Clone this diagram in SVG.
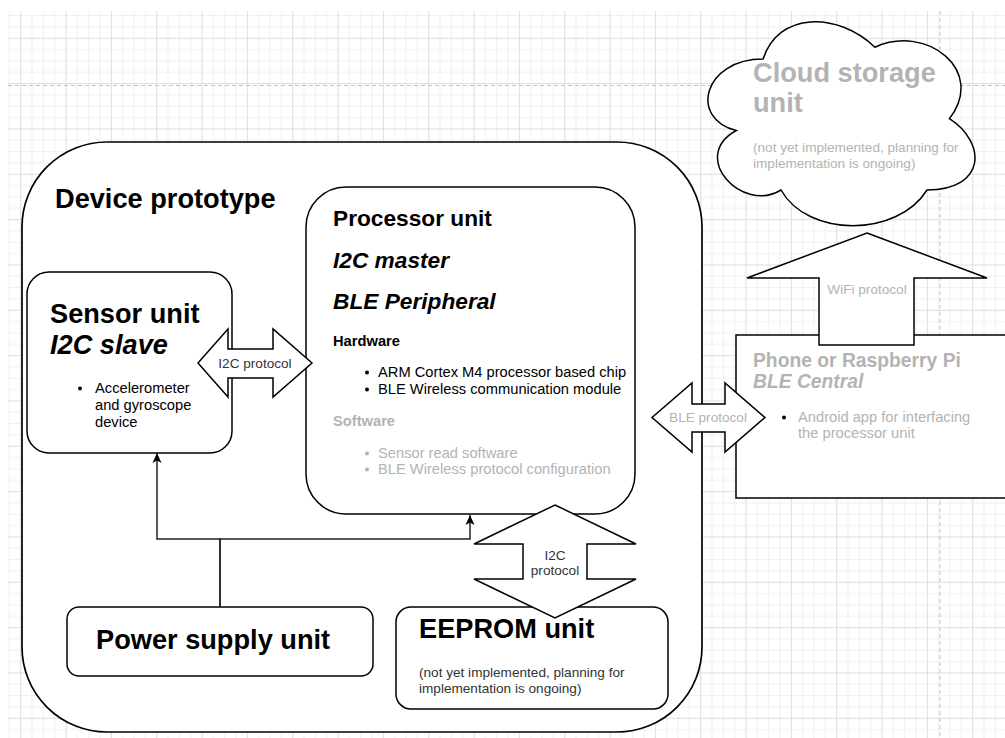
<svg xmlns="http://www.w3.org/2000/svg" width="1005" height="738" viewBox="0 0 1005 738">
<style>
.box{fill:#fff;stroke:#000;stroke-width:1.5}
.arr{fill:#fff;stroke:#000;stroke-width:1.5;stroke-linejoin:miter}
.con{fill:none;stroke:#222;stroke-width:1.5}
text{font-family:"Liberation Sans",Arial,Helvetica,sans-serif;fill:#000}
.h27{font-size:27.2px;font-weight:bold}
.h23{font-size:22.7px;font-weight:bold}
.h19{font-size:19.3px;font-weight:bold}
.hb{font-size:14.7px;font-weight:bold}
.b{font-size:14.7px}
.s{font-size:13.6px}
.lbl{font-size:13.6px;fill:#333;text-anchor:middle}
text.g{fill:#b3b3b3}
.it{font-style:italic}
.dot{fill:#000}
.gdot{fill:#b3b3b3}
.page{stroke:#c4c4c4;stroke-width:1;stroke-dasharray:4 3;fill:none}
</style>
<defs>
<pattern id="grid" x="20.2" y="37.8" width="45.333" height="45.333" patternUnits="userSpaceOnUse">
<rect x="0" y="0" width="45.333" height="45.333" fill="#fff"/>
<rect x="11.33" y="0" width="1" height="45.333" fill="#f0f0f0"/>
<rect x="22.67" y="0" width="1" height="45.333" fill="#f0f0f0"/>
<rect x="34" y="0" width="1" height="45.333" fill="#f0f0f0"/>
<rect x="0" y="11.33" width="45.333" height="1" fill="#f0f0f0"/>
<rect x="0" y="22.67" width="45.333" height="1" fill="#f0f0f0"/>
<rect x="0" y="34" width="45.333" height="1" fill="#f0f0f0"/>
<rect x="0" y="0" width="1" height="45.333" fill="#dedede"/>
<rect x="0" y="0" width="45.333" height="1" fill="#dedede"/>
</pattern>
<marker id="ah" markerUnits="userSpaceOnUse" markerWidth="10" markerHeight="10" viewBox="0 0 10 10" refX="10" refY="5" orient="auto">
<path d="M0,0.5 L10,5 L0,9.5 L2.5,5 Z" fill="#000"/>
</marker>
</defs>
<rect x="0" y="0" width="1005" height="738" fill="#fff"/>
<rect x="8" y="11" width="997" height="727" fill="url(#grid)"/>
<line class="page" x1="8" y1="85.5" x2="1005" y2="85.5"/>
<line class="page" x1="940" y1="11" x2="940" y2="738"/>

<g id="cloud-storage">
<path class="box" d="M763.1,59.1 C703.5,59.1 688.6,118.6 736.3,130.5 C688.6,156.7 742.2,213.8 781,190 C807.8,237.6 897.2,237.6 927,190 C986.6,190 986.6,142.4 949.4,118.6 C986.6,71 927,23.4 874.9,47.2 C837.6,11.5 778,11.5 763.1,59.1 Z"/>
<text class="h27 g" x="753" y="82">Cloud storage</text>
<text class="h27 g" x="753" y="112">unit</text>
<text class="s g" x="753" y="152">(not yet implemented, planning for</text>
<text class="s g" x="753" y="168">implementation is ongoing)</text>
</g>

<g id="device-prototype">
<rect class="box" x="22" y="142" width="680" height="590" rx="85" ry="85" style="stroke-width:1.7"/>
<text class="h27" x="55" y="208">Device prototype</text>
</g>

<g id="sensor-unit">
<rect class="box" x="27" y="272" width="205" height="181" rx="22" ry="22"/>
<text class="h27" x="50" y="323">Sensor unit</text>
<text class="h27 it" x="50" y="354">I2C slave</text>
<circle class="dot" cx="80" cy="388.5" r="2"/>
<text class="b" x="95" y="393">Accelerometer</text>
<text class="b" x="95" y="410">and gyroscope</text>
<text class="b" x="95" y="427">device</text>
</g>

<g id="processor-unit">
<rect class="box" x="306" y="187" width="329" height="327" rx="40" ry="40"/>
<text class="h23" x="333" y="226">Processor unit</text>
<text class="h23 it" x="333" y="268">I2C master</text>
<text class="h23 it" x="333" y="309">BLE Peripheral</text>
<text class="hb" x="333" y="346">Hardware</text>
<circle class="dot" cx="367" cy="372.5" r="2"/>
<text class="b" x="378" y="377">ARM Cortex M4 processor based chip</text>
<circle class="dot" cx="367" cy="389.5" r="2"/>
<text class="b" x="378" y="394">BLE Wireless communication module</text>
<text class="hb g" x="333" y="426">Software</text>
<circle class="gdot" cx="367" cy="453.5" r="2"/>
<text class="b g" x="378" y="458">Sensor read software</text>
<circle class="gdot" cx="367" cy="469.5" r="2"/>
<text class="b g" x="378" y="474">BLE Wireless protocol configuration</text>
</g>

<g id="power-supply-unit">
<rect class="box" x="67" y="607" width="306" height="69" rx="12" ry="12"/>
<text class="h27" x="96" y="649">Power supply unit</text>
</g>

<g id="eeprom-unit">
<rect class="box" x="396" y="607" width="272" height="102" rx="15" ry="15"/>
<text class="h27" x="419" y="638">EEPROM unit</text>
<text class="s" x="419" y="677" style="fill:#333">(not yet implemented, planning for</text>
<text class="s" x="419" y="693" style="fill:#333">implementation is ongoing)</text>
</g>

<g id="phone-unit">
<rect class="box" x="736" y="335" width="300" height="163"/>
<text class="h19 g" x="753" y="367">Phone or Raspberry Pi</text>
<text class="h19 g it" x="753" y="388">BLE Central</text>
<circle class="dot" cx="784" cy="417.5" r="2"/>
<text class="b g" x="798" y="422">Android app for interfacing</text>
<text class="b g" x="798" y="438">the processor unit</text>
</g>

<g id="connectors">
<path class="con" d="M220,607 V539 H157 V453" marker-end="url(#ah)"/>
<path class="con" d="M220,607 V539 H470 V515" marker-end="url(#ah)"/>
<g id="i2c-sensor-arrow">
<polygon class="arr" points="198,363 228,329 228,349 273,349 273,329 312,363 273,397 273,378 228,378 228,397"/>
<text class="lbl" x="255" y="368">I2C protocol</text>
</g>
<g id="i2c-eeprom-arrow">
<polygon class="arr" points="555,505 636,544 587,544 587,579 636,579 555,618 474,579 523,579 523,544 474,544"/>
<text class="lbl" x="555" y="560">I2C</text>
<text class="lbl" x="555" y="575">protocol</text>
</g>
<g id="ble-arrow">
<polygon class="arr" points="652,417.5 692,383 692,404 725,404 725,383 765,417.5 725,452 725,432 692,432 692,452"/>
<text class="lbl" x="708" y="422" style="fill:#b3b3b3">BLE protocol</text>
</g>
<g id="wifi-arrow">
<polygon class="arr" points="867,233 987,278 914,278 914,345 819,345 819,278 747,278"/>
<text class="lbl" x="867" y="294" style="fill:#b3b3b3">WiFi protocol</text>
</g>
</g>
</svg>
